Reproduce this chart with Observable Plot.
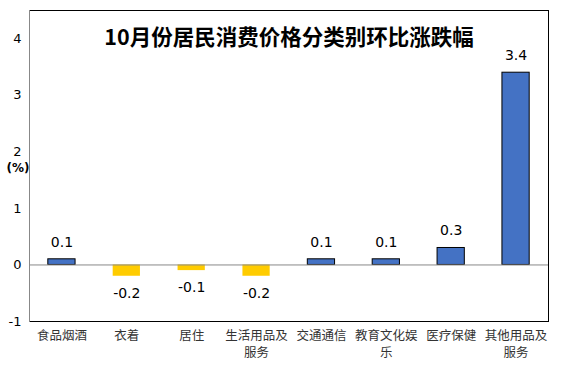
<!DOCTYPE html>
<html>
<head>
<meta charset="utf-8">
<script src="https://cdn.jsdelivr.net/npm/d3@7"></script>
<script src="https://cdn.jsdelivr.net/npm/@observablehq/plot@0.6"></script>
<style>
  body { margin: 0; background: #fff; }
  #chart { position: relative; width: 586px; height: 382px; }
</style>
</head>
<body>
<div id="chart"></div>
<script>
const categories = ["食品烟酒", "衣着", "居住", "生活用品及服务", "交通通信", "教育文化娱乐", "医疗保健", "其他用品及服务"];
const tickLabels = ["食品烟酒", "衣着", "居住", "生活用品及\n服务", "交通通信", "教育文化娱\n乐", "医疗保健", "其他用品及\n服务"];
const values = [0.1, -0.2, -0.1, -0.2, 0.1, 0.1, 0.3, 3.4];
const yTicks = [-1, 0, 1, 2, 3, 4];
const title = "10月份居民消费价格分类别环比涨跌幅";
const unit = "(%)";

const data = categories.map((c, i) => ({cat: c, value: values[i], label: tickLabels[i]}));
const pos = data.filter(d => d.value >= 0);
const neg = data.filter(d => d.value < 0);
const labelOf = new Map(data.map(d => [d.cat, d.label]));

const sans = "DejaVu Sans, sans-serif";
const cjk = "'Noto Sans CJK SC', sans-serif";

const plot = Plot.plot({
  width: 586,
  height: 382,
  marginLeft: 29,
  marginRight: 38,
  marginTop: 10,
  marginBottom: 61,
  style: {fontFamily: sans, background: "white"},
  x: {domain: categories, paddingInner: 0.58, paddingOuter: 0.29, round: false, label: null},
  y: {domain: [-1, 4.5], label: null},
  marks: [
    Plot.frame({stroke: "black"}),
    Plot.frame({anchor: "left", stroke: "#888"}),
    Plot.barY(pos, {x: "cat", y: "value", fill: "#4472C4", stroke: "black", strokeWidth: 1}),
    Plot.barY(neg, {x: "cat", y: "value", fill: "#FFCC00"}),
    Plot.ruleY([0], {stroke: "#888", strokeWidth: 1}),
    Plot.text(pos, {x: "cat", y: "value", text: d => d.value.toFixed(1), dy: -17, fontSize: 14, fill: "black", fontFamily: sans}),
    Plot.text(neg, {x: "cat", y: "value", text: d => d.value.toFixed(1), dy: 17, fontSize: 14, fill: "black", fontFamily: sans}),
    Plot.axisY({ticks: yTicks, tickSize: 0, tickPadding: 8, fontSize: 13, fill: "black", tickFormat: d => String(d)}),
    Plot.axisX({tickSize: 0, tickPadding: 7, fontSize: 12.5, fill: "#333", fontFamily: cjk, tickFormat: d => labelOf.get(d), lineHeight: 1.35}),
    Plot.text([title], {frameAnchor: "top", dy: 19, fontSize: 21.5, fontWeight: "bold", fontFamily: cjk, fill: "black"}),
    Plot.text([unit], {frameAnchor: "left", y: 1.72, dx: -23, textAnchor: "start", fontSize: 12, fontWeight: "bold", fill: "black", fontFamily: sans})
  ]
});
document.getElementById("chart").appendChild(plot);
</script>
</body>
</html>
